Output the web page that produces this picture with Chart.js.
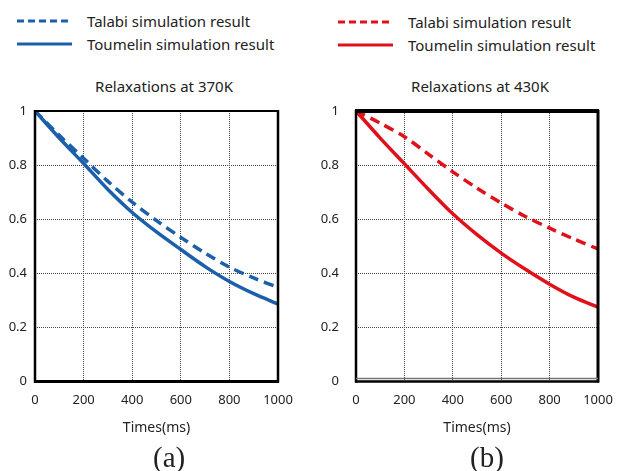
<!DOCTYPE html>
<html>
<head>
<meta charset="utf-8">
<script src="https://cdn.jsdelivr.net/npm/chart.js@4.4.1/dist/chart.umd.min.js"></script>
<style>
    html, body { margin: 0; padding: 0; background: #fff; }
    body { width: 637px; height: 471px; position: relative; overflow: hidden; font-family: "Noto Sans", sans-serif; color: #222; }
    .legend { position: absolute; font-size: 15px; }
    .legend .row { position: absolute; white-space: nowrap; height: 20px; line-height: 20px; }
    .legend svg { position: absolute; left: 0; top: 0; }
    .legend span { position: absolute; top: 0; }
    .box { position: absolute; }
    .title { position: absolute; font-size: 15px; top: 76px; width: 200px; text-align: center; white-space: nowrap; }
    .caption { position: absolute; font-family: "Liberation Serif", serif; font-size: 29px; top: 441px; }
</style>
</head>
<body>

<div class="legend" id="legendA" style="left:17px; top:11px;"></div>
<div class="legend" id="legendB" style="left:338px; top:12px;"></div>

<div class="title" style="left:64px;">Relaxations at 370K</div>
<div class="title" style="left:380px;">Relaxations at 430K</div>

<div class="box" style="left:0; top:60px; width:310px; height:383px;"><canvas id="chartA"></canvas></div>
<div class="box" style="left:320px; top:60px; width:317px; height:383px;"><canvas id="chartB"></canvas></div>

<div class="caption" style="left:153px;">(a)</div>
<div class="caption" style="left:470px;">(b)</div>

<script>
// =========================================================================
// DATA
// =========================================================================
const times = [0, 100, 200, 300, 400, 500, 600, 700, 800, 900, 1000];
const xTicks = [0, 200, 400, 600, 800, 1000];
const yTicks = [0, 0.2, 0.4, 0.6, 0.8, 1];
const seriesNames = ['Talabi simulation result', 'Toumelin simulation result'];

// Relaxations at 370K
const talabi370 = [1.0, 0.91, 0.825, 0.74, 0.663, 0.595, 0.533, 0.475, 0.423, 0.383, 0.348];
const toumelin370 = [1.0, 0.9, 0.806, 0.71, 0.625, 0.553, 0.488, 0.425, 0.37, 0.325, 0.287];

// Relaxations at 430K
const talabi430 = [1.0, 0.955, 0.905, 0.84, 0.775, 0.715, 0.66, 0.61, 0.567, 0.527, 0.49];
const toumelin430 = [1.0, 0.9, 0.805, 0.71, 0.62, 0.543, 0.475, 0.415, 0.36, 0.312, 0.275];

const BLUE = '#1c5fab';
const RED = '#e0111b';

// =========================================================================
// HTML LEGENDS
// =========================================================================
function buildLegend(id, color, lineLen, textX) {
    const el = document.getElementById(id);
    seriesNames.forEach((name, i) => {
        const row = document.createElement('div');
        row.className = 'row';
        row.style.top = (i * 23) + 'px';
        const dash = i === 0 ? 'stroke-dasharray="7,4"' : '';
        row.innerHTML =
            '<svg width="' + lineLen + '" height="20"><line x1="0" y1="10" x2="' + lineLen +
            '" y2="10" stroke="' + color + '" stroke-width="3" ' + dash + '/></svg>' +
            '<span style="left:' + textX + 'px">' + name + '</span>';
        el.appendChild(row);
    });
}
buildLegend('legendA', BLUE, 55, 70);
buildLegend('legendB', RED, 55, 70);

// =========================================================================
// FRAME PLUGIN (black border round plot area, per-side widths)
// =========================================================================
const framePlugin = {
    id: 'frame',
    afterDatasetsDraw(chart, args, opts) {
        const { ctx, chartArea: a } = chart;
        ctx.save();
        ctx.strokeStyle = '#000';
        const side = (w, x1, y1, x2, y2) => {
            if (!w) return;
            ctx.lineWidth = w;
            ctx.beginPath();
            ctx.moveTo(x1, y1);
            ctx.lineTo(x2, y2);
            ctx.stroke();
        };
        const w = opts.widths;
        side(w.top, a.left - 1, a.top, a.right + 1, a.top);
        side(w.bottom, a.left - 1, a.bottom, a.right + 1, a.bottom);
        side(w.left, a.left, a.top - 1, a.left, a.bottom + 1);
        side(w.right, a.right, a.top - 1, a.right, a.bottom + 1);
        if (opts.innerBottom) {
            ctx.strokeStyle = '#777';
            side(1.5, a.left, a.bottom - 3, a.right, a.bottom - 3);
        }
        ctx.restore();
    }
};

// =========================================================================
// CHART FACTORY
// =========================================================================
function makeChart(id, color, dashed, solid, yWidth, yPad, padRight, frame) {
    const ctx = document.getElementById(id).getContext('2d');
    return new Chart(ctx, {
        type: 'line',
        data: {
            labels: times,
            datasets: [
                {
                    label: seriesNames[0],
                    data: times.map((t, i) => ({ x: t, y: dashed[i] })),
                    borderColor: color,
                    borderWidth: 3.5,
                    borderDash: [10, 6],
                    pointRadius: 0,
                    tension: 0.3
                },
                {
                    label: seriesNames[1],
                    data: times.map((t, i) => ({ x: t, y: solid[i] })),
                    borderColor: color,
                    borderWidth: 3.5,
                    pointRadius: 0,
                    tension: 0.3
                }
            ]
        },
        options: {
            responsive: true,
            maintainAspectRatio: false,
            animation: false,
            layout: { padding: { top: 51, right: padRight, bottom: 7, left: 0 } },
            plugins: {
                legend: { display: false },
                tooltip: { enabled: false },
                frame: frame
            },
            scales: {
                x: {
                    type: 'linear',
                    min: 0,
                    max: 1000,
                    afterBuildTicks: (s) => { s.ticks = xTicks.map(v => ({ value: v })); },
                    grid: { color: '#444', lineWidth: 1, drawTicks: false },
                    border: { display: false, dash: [1, 1] },
                    ticks: {
                        color: '#222', padding: 11, maxRotation: 0,
                        font: { family: 'Noto Sans', size: 13 },
                        callback: (v) => String(v)
                    },
                    title: {
                        display: true,
                        text: 'Times(ms)',
                        color: '#222',
                        font: { family: 'Noto Sans', size: 14 },
                        padding: { top: 0, bottom: 0 }
                    }
                },
                y: {
                    min: 0,
                    max: 1,
                    afterBuildTicks: (s) => { s.ticks = yTicks.map(v => ({ value: v })); },
                    afterFit: (s) => { s.width = yWidth; },
                    grid: { color: '#444', lineWidth: 1, drawTicks: false },
                    border: { display: false, dash: [1, 1] },
                    ticks: {
                        color: '#222', padding: yPad,
                        font: { family: 'Noto Sans', size: 13 },
                        callback: (v) => (v === 0 || v === 1) ? String(v) : v.toFixed(1)
                    }
                }
            }
        },
        plugins: [framePlugin]
    });
}

makeChart('chartA', BLUE, talabi370, toumelin370, 35, 8, 32,
    { widths: { top: 2, right: 2.5, bottom: 3, left: 2.5 } });
makeChart('chartB', RED, talabi430, toumelin430, 36, 17, 39,
    { widths: { top: 4, right: 3, bottom: 2.5, left: 2.5 }, innerBottom: true });
</script>
</body>
</html>
